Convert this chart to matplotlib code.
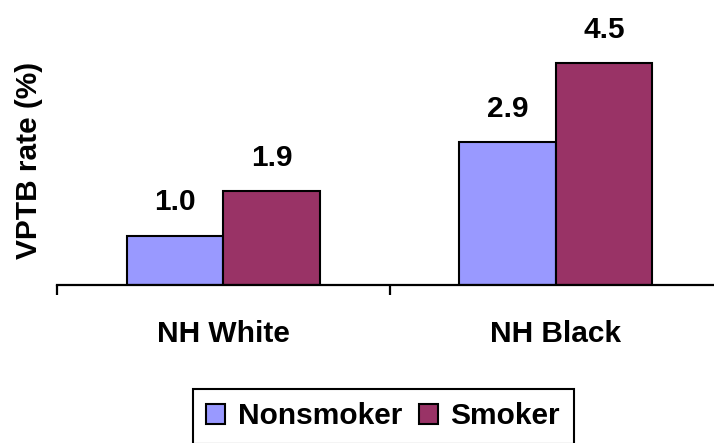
import numpy as np
import matplotlib
matplotlib.use('Agg')
import matplotlib.pyplot as plt

groups = ['NH White', 'NH Black']
nonsmoker = [1.0, 2.9]
smoker = [1.9, 4.5]
value_labels_nonsmoker = ['1.0', '2.9']
value_labels_smoker = ['1.9', '4.5']

plt.rcParams['font.family'] = ['Liberation Sans', 'DejaVu Sans']
plt.rcParams['font.weight'] = 'bold'
FS = 21.5

fig = plt.figure(figsize=(7.14, 4.43), dpi=100)
ax = fig.add_axes([57 / 714, (443 - 285) / 443, 665 / 714, 285 / 443])

x = np.arange(len(groups))
w = 0.29
b1 = ax.bar(x - w / 2, nonsmoker, w, color='#9999FF', edgecolor='black',
            linewidth=1.5, label='Nonsmoker')
b2 = ax.bar(x + w / 2, smoker, w, color='#993366', edgecolor='black',
            linewidth=1.5, label='Smoker')
ax.bar_label(b1, labels=value_labels_nonsmoker, padding=14, fontsize=FS, fontweight='bold')
ax.bar_label(b2, labels=value_labels_smoker, padding=14, fontsize=FS, fontweight='bold')

ax.set_xlim(-0.5, 1.5)
ax.set_ylim(0, 285 / 49.3)

for s in ['top', 'right', 'left']:
    ax.spines[s].set_visible(False)
ax.spines['bottom'].set_linewidth(1.6)

ax.set_yticks([])
ax.set_xticks([-0.5, 0.5, 1.5])
ax.set_xticklabels([])
ax.tick_params(axis='x', which='major', direction='out', length=7, width=1.6)
ax.set_xticks(x, minor=True)
ax.set_xticklabels(groups, minor=True, fontsize=FS, fontweight='bold')
ax.tick_params(axis='x', which='minor', length=0, pad=25)

ax.set_ylabel('VPTB rate (%)', fontsize=FS, fontweight='bold')
ax.yaxis.set_label_coords(-14 / 665, (285 - 160) / 285)

leg = fig.legend(loc='upper left', bbox_to_anchor=(193 / 714, 1 - 389 / 443),
                 ncol=2, fontsize=FS, frameon=True, fancybox=False,
                 edgecolor='black', framealpha=1, borderaxespad=0,
                 handlelength=0.62, handleheight=0.62, handletextpad=0.43,
                 columnspacing=0.57, borderpad=0.45)
leg.get_frame().set_linewidth(1.5)

fig.savefig('out.png', dpi=100)
